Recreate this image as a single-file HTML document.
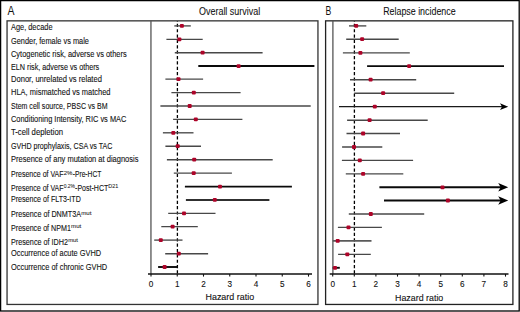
<!DOCTYPE html>
<html><head><meta charset="utf-8"><style>
html,body{margin:0;padding:0;background:#fff;width:520px;height:312px;overflow:hidden}
svg{display:block}
text{font-family:"Liberation Sans", sans-serif}
</style></head><body>
<svg width="520" height="312" viewBox="0 0 520 312">
<rect width="520" height="312" fill="#fff"/>
<rect x="0.6" y="0.6" width="518.6" height="310.4" fill="none" stroke="#000" stroke-width="1.3"/>
<text x="7.6" y="14.5" font-size="12" fill="#111" textLength="7.0" lengthAdjust="spacingAndGlyphs">A</text>
<text x="325.5" y="14.5" font-size="12" fill="#111" textLength="5.8" lengthAdjust="spacingAndGlyphs">B</text>
<text x="199.0" y="15" font-size="10" fill="#111" stroke="#111" stroke-width="0.08" textLength="61.2" lengthAdjust="spacingAndGlyphs">Overall survival</text>
<text x="383.2" y="15" font-size="10" fill="#111" stroke="#111" stroke-width="0.08" textLength="72.4" lengthAdjust="spacingAndGlyphs">Relapse incidence</text>
<rect x="7.05" y="20.85" width="310.9" height="283.6" fill="none" stroke="#333" stroke-width="1.3"/>
<rect x="325.6" y="20.85" width="187.3" height="283.6" fill="none" stroke="#222" stroke-width="1.3"/>
<text x="11.0" y="30.0" font-size="8.2" fill="#111" stroke="#111" stroke-width="0.1" textLength="41.5" lengthAdjust="spacingAndGlyphs">Age, decade</text>
<text x="11.0" y="43.5" font-size="8.2" fill="#111" stroke="#111" stroke-width="0.1" textLength="77.9" lengthAdjust="spacingAndGlyphs">Gender, female vs male</text>
<text x="11.0" y="56.5" font-size="8.2" fill="#111" stroke="#111" stroke-width="0.1" textLength="115.6" lengthAdjust="spacingAndGlyphs">Cytogenetic risk, adverse vs others</text>
<text x="11.0" y="70.4" font-size="8.2" fill="#111" stroke="#111" stroke-width="0.1" textLength="88.2" lengthAdjust="spacingAndGlyphs">ELN risk, adverse vs others</text>
<text x="11.0" y="81.9" font-size="8.2" fill="#111" stroke="#111" stroke-width="0.1" textLength="90.9" lengthAdjust="spacingAndGlyphs">Donor, unrelated vs related</text>
<text x="11.0" y="95.4" font-size="8.2" fill="#111" stroke="#111" stroke-width="0.1" textLength="99.5" lengthAdjust="spacingAndGlyphs">HLA, mismatched vs matched</text>
<text x="11.0" y="108.7" font-size="8.2" fill="#111" stroke="#111" stroke-width="0.1" textLength="96.5" lengthAdjust="spacingAndGlyphs">Stem cell source, PBSC vs BM</text>
<text x="11.0" y="122.0" font-size="8.2" fill="#111" stroke="#111" stroke-width="0.1" textLength="115.4" lengthAdjust="spacingAndGlyphs">Conditioning Intensity, RIC vs MAC</text>
<text x="11.0" y="135.3" font-size="8.2" fill="#111" stroke="#111" stroke-width="0.1" textLength="52.0" lengthAdjust="spacingAndGlyphs">T-cell depletion</text>
<text x="11.0" y="148.9" font-size="8.2" fill="#111" stroke="#111" stroke-width="0.1" textLength="101.4" lengthAdjust="spacingAndGlyphs">GVHD prophylaxis, CSA vs TAC</text>
<text x="11.0" y="162.4" font-size="8.2" fill="#111" stroke="#111" stroke-width="0.1" textLength="127.5" lengthAdjust="spacingAndGlyphs">Presence of any mutation at diagnosis</text>
<text x="11.0" y="202.2" font-size="8.2" fill="#111" stroke="#111" stroke-width="0.1" textLength="69.8" lengthAdjust="spacingAndGlyphs">Presence of FLT3-ITD</text>
<text x="11.0" y="256.1" font-size="8.2" fill="#111" stroke="#111" stroke-width="0.1" textLength="90.1" lengthAdjust="spacingAndGlyphs">Occurrence of acute GVHD</text>
<text x="11.0" y="269.8" font-size="8.2" fill="#111" stroke="#111" stroke-width="0.1" textLength="96.2" lengthAdjust="spacingAndGlyphs">Occurrence of chronic GVHD</text>
<text x="11.0" y="177.4" font-size="8.2" fill="#111" stroke="#111" stroke-width="0.1" textLength="52.6" lengthAdjust="spacingAndGlyphs">Presence of VAF</text>
<text x="63.7" y="175.0" font-size="5.8" fill="#111" stroke="#111" stroke-width="0.05" textLength="8.7" lengthAdjust="spacingAndGlyphs">2%</text>
<text x="72.7" y="177.4" font-size="8.2" fill="#111" stroke="#111" stroke-width="0.1" textLength="28.7" lengthAdjust="spacingAndGlyphs">-Pre-HCT</text>
<text x="11.0" y="190.6" font-size="8.2" fill="#111" stroke="#111" stroke-width="0.1" textLength="52.6" lengthAdjust="spacingAndGlyphs">Presence of VAF</text>
<text x="63.7" y="188.2" font-size="5.8" fill="#111" stroke="#111" stroke-width="0.05" textLength="11.3" lengthAdjust="spacingAndGlyphs">0.2%</text>
<text x="75.1" y="190.6" font-size="8.2" fill="#111" stroke="#111" stroke-width="0.1" textLength="33.2" lengthAdjust="spacingAndGlyphs">-Post-HCT</text>
<text x="108.3" y="188.2" font-size="5.8" fill="#111" stroke="#111" stroke-width="0.05" textLength="10.0" lengthAdjust="spacingAndGlyphs">D21</text>
<text x="11.0" y="217.3" font-size="8.2" fill="#111" stroke="#111" stroke-width="0.1" textLength="70.0" lengthAdjust="spacingAndGlyphs">Presence of DNMT3A</text>
<text x="81.2" y="214.9" font-size="5.8" fill="#111" stroke="#111" stroke-width="0.05" textLength="10.2" lengthAdjust="spacingAndGlyphs">mut</text>
<text x="11.0" y="230.8" font-size="8.2" fill="#111" stroke="#111" stroke-width="0.1" textLength="59.9" lengthAdjust="spacingAndGlyphs">Presence of NPM1</text>
<text x="71.10000000000001" y="228.4" font-size="5.8" fill="#111" stroke="#111" stroke-width="0.05" textLength="10.2" lengthAdjust="spacingAndGlyphs">mut</text>
<text x="11.0" y="244.6" font-size="8.2" fill="#111" stroke="#111" stroke-width="0.1" textLength="57.0" lengthAdjust="spacingAndGlyphs">Presence of IDH2</text>
<text x="68.2" y="242.2" font-size="5.8" fill="#111" stroke="#111" stroke-width="0.05" textLength="9.8" lengthAdjust="spacingAndGlyphs">mut</text>
<line x1="150.95" y1="20.85" x2="150.95" y2="274.0" stroke="#555" stroke-width="1.3" />
<line x1="148.0" y1="274.0" x2="312.0" y2="274.0" stroke="#111" stroke-width="1.3" />
<line x1="151.0" y1="274.0" x2="151.0" y2="276.6" stroke="#111" stroke-width="1.1" />
<text x="151.0" y="286.9" font-size="8.2" fill="#111" stroke="#111" stroke-width="0.1" text-anchor="middle">0</text>
<line x1="177.25" y1="274.0" x2="177.25" y2="276.6" stroke="#111" stroke-width="1.1" />
<text x="177.25" y="286.9" font-size="8.2" fill="#111" stroke="#111" stroke-width="0.1" text-anchor="middle">1</text>
<line x1="203.5" y1="274.0" x2="203.5" y2="276.6" stroke="#111" stroke-width="1.1" />
<text x="203.5" y="286.9" font-size="8.2" fill="#111" stroke="#111" stroke-width="0.1" text-anchor="middle">2</text>
<line x1="229.75" y1="274.0" x2="229.75" y2="276.6" stroke="#111" stroke-width="1.1" />
<text x="229.75" y="286.9" font-size="8.2" fill="#111" stroke="#111" stroke-width="0.1" text-anchor="middle">3</text>
<line x1="256.0" y1="274.0" x2="256.0" y2="276.6" stroke="#111" stroke-width="1.1" />
<text x="256.0" y="286.9" font-size="8.2" fill="#111" stroke="#111" stroke-width="0.1" text-anchor="middle">4</text>
<line x1="282.25" y1="274.0" x2="282.25" y2="276.6" stroke="#111" stroke-width="1.1" />
<text x="282.25" y="286.9" font-size="8.2" fill="#111" stroke="#111" stroke-width="0.1" text-anchor="middle">5</text>
<line x1="308.5" y1="274.0" x2="308.5" y2="276.6" stroke="#111" stroke-width="1.1" />
<text x="308.5" y="286.9" font-size="8.2" fill="#111" stroke="#111" stroke-width="0.1" text-anchor="middle">6</text>
<line x1="177.4" y1="21.2" x2="177.4" y2="274" stroke="#000" stroke-width="1.3" stroke-dasharray="3.2 2.16" stroke-dashoffset="2.76"/>
<line x1="174.3" y1="25.9" x2="190.8" y2="25.9" stroke="#484848" stroke-width="1.35" />
<rect x="179.9" y="24.0" width="4.0" height="3.8" rx="1.0" fill="#ad0429"/>
<line x1="166.4" y1="39.3" x2="202.7" y2="39.3" stroke="#484848" stroke-width="1.35" />
<rect x="177.4" y="37.4" width="4.0" height="3.8" rx="1.0" fill="#ad0429"/>
<line x1="174.8" y1="52.7" x2="262.6" y2="52.7" stroke="#484848" stroke-width="1.35" />
<rect x="200.6" y="50.800000000000004" width="4.0" height="3.8" rx="1.0" fill="#ad0429"/>
<line x1="198.3" y1="66.05" x2="314.4" y2="66.05" stroke="#0a0a0a" stroke-width="1.9" />
<rect x="236.6" y="64.14999999999999" width="4.0" height="3.8" rx="1.0" fill="#ad0429"/>
<line x1="165.4" y1="79.1" x2="203.1" y2="79.1" stroke="#484848" stroke-width="1.35" />
<rect x="176.5" y="77.19999999999999" width="4.0" height="3.8" rx="1.0" fill="#ad0429"/>
<line x1="171.4" y1="92.6" x2="240.6" y2="92.6" stroke="#484848" stroke-width="1.35" />
<rect x="191.8" y="90.69999999999999" width="4.0" height="3.8" rx="1.0" fill="#ad0429"/>
<line x1="160.4" y1="106.0" x2="310.7" y2="106.0" stroke="#484848" stroke-width="1.35" />
<rect x="187.7" y="104.1" width="4.0" height="3.8" rx="1.0" fill="#ad0429"/>
<line x1="173.1" y1="119.3" x2="242.4" y2="119.3" stroke="#484848" stroke-width="1.35" />
<rect x="193.8" y="117.39999999999999" width="4.0" height="3.8" rx="1.0" fill="#ad0429"/>
<line x1="162.9" y1="132.8" x2="193.5" y2="132.8" stroke="#484848" stroke-width="1.35" />
<rect x="171.3" y="130.9" width="4.0" height="3.8" rx="1.0" fill="#ad0429"/>
<line x1="165.4" y1="146.2" x2="201.0" y2="146.2" stroke="#484848" stroke-width="1.35" />
<rect x="175.7" y="144.29999999999998" width="4.0" height="3.8" rx="1.0" fill="#ad0429"/>
<line x1="166.9" y1="159.7" x2="272.7" y2="159.7" stroke="#484848" stroke-width="1.35" />
<rect x="192.2" y="157.79999999999998" width="4.0" height="3.8" rx="1.0" fill="#ad0429"/>
<line x1="173.8" y1="173.1" x2="231.9" y2="173.1" stroke="#484848" stroke-width="1.35" />
<rect x="191.7" y="171.2" width="4.0" height="3.8" rx="1.0" fill="#ad0429"/>
<line x1="184.9" y1="186.6" x2="291.9" y2="186.6" stroke="#0a0a0a" stroke-width="1.9" />
<rect x="218.0" y="184.7" width="4.0" height="3.8" rx="1.0" fill="#ad0429"/>
<line x1="185.9" y1="199.9" x2="269.4" y2="199.9" stroke="#303030" stroke-width="2.0" />
<rect x="212.8" y="198.0" width="4.0" height="3.8" rx="1.0" fill="#ad0429"/>
<line x1="168.2" y1="213.4" x2="215.5" y2="213.4" stroke="#484848" stroke-width="1.35" />
<rect x="182.0" y="211.5" width="4.0" height="3.8" rx="1.0" fill="#ad0429"/>
<line x1="161.3" y1="226.6" x2="197.8" y2="226.6" stroke="#484848" stroke-width="1.35" />
<rect x="170.6" y="224.7" width="4.0" height="3.8" rx="1.0" fill="#ad0429"/>
<line x1="154.2" y1="240.1" x2="182.5" y2="240.1" stroke="#484848" stroke-width="1.35" />
<rect x="158.8" y="238.2" width="4.0" height="3.8" rx="1.0" fill="#ad0429"/>
<line x1="165.2" y1="253.7" x2="208.1" y2="253.7" stroke="#484848" stroke-width="1.35" />
<rect x="176.8" y="251.79999999999998" width="4.0" height="3.8" rx="1.0" fill="#ad0429"/>
<line x1="158.1" y1="267.0" x2="177.5" y2="267.0" stroke="#0a0a0a" stroke-width="1.9" />
<rect x="162.6" y="265.1" width="4.0" height="3.8" rx="1.0" fill="#ad0429"/>
<line x1="332.9" y1="20.85" x2="332.9" y2="274.0" stroke="#555" stroke-width="1.3" />
<line x1="329.7" y1="274.0" x2="508.5" y2="274.0" stroke="#111" stroke-width="1.3" />
<line x1="332.7" y1="274.0" x2="332.7" y2="276.6" stroke="#111" stroke-width="1.1" />
<text x="332.7" y="287.4" font-size="8.2" fill="#111" stroke="#111" stroke-width="0.1" text-anchor="middle">0</text>
<line x1="354.3" y1="274.0" x2="354.3" y2="276.6" stroke="#111" stroke-width="1.1" />
<text x="354.3" y="287.4" font-size="8.2" fill="#111" stroke="#111" stroke-width="0.1" text-anchor="middle">1</text>
<line x1="375.9" y1="274.0" x2="375.9" y2="276.6" stroke="#111" stroke-width="1.1" />
<text x="375.9" y="287.4" font-size="8.2" fill="#111" stroke="#111" stroke-width="0.1" text-anchor="middle">2</text>
<line x1="397.5" y1="274.0" x2="397.5" y2="276.6" stroke="#111" stroke-width="1.1" />
<text x="397.5" y="287.4" font-size="8.2" fill="#111" stroke="#111" stroke-width="0.1" text-anchor="middle">3</text>
<line x1="419.1" y1="274.0" x2="419.1" y2="276.6" stroke="#111" stroke-width="1.1" />
<text x="419.1" y="287.4" font-size="8.2" fill="#111" stroke="#111" stroke-width="0.1" text-anchor="middle">4</text>
<line x1="440.7" y1="274.0" x2="440.7" y2="276.6" stroke="#111" stroke-width="1.1" />
<text x="440.7" y="287.4" font-size="8.2" fill="#111" stroke="#111" stroke-width="0.1" text-anchor="middle">5</text>
<line x1="462.3" y1="274.0" x2="462.3" y2="276.6" stroke="#111" stroke-width="1.1" />
<text x="462.3" y="287.4" font-size="8.2" fill="#111" stroke="#111" stroke-width="0.1" text-anchor="middle">6</text>
<line x1="483.9" y1="274.0" x2="483.9" y2="276.6" stroke="#111" stroke-width="1.1" />
<text x="483.9" y="287.4" font-size="8.2" fill="#111" stroke="#111" stroke-width="0.1" text-anchor="middle">7</text>
<line x1="505.5" y1="274.0" x2="505.5" y2="276.6" stroke="#111" stroke-width="1.1" />
<text x="505.5" y="287.4" font-size="8.2" fill="#111" stroke="#111" stroke-width="0.1" text-anchor="middle">8</text>
<line x1="354.4" y1="21.2" x2="354.4" y2="274" stroke="#000" stroke-width="1.3" stroke-dasharray="3.2 2.16" stroke-dashoffset="2.76"/>
<line x1="349.0" y1="25.9" x2="366.3" y2="25.9" stroke="#484848" stroke-width="1.35" />
<rect x="354.2" y="24.0" width="4.0" height="3.8" rx="1.0" fill="#ad0429"/>
<line x1="346.2" y1="39.2" x2="398.7" y2="39.2" stroke="#484848" stroke-width="1.35" />
<rect x="360.1" y="37.300000000000004" width="4.0" height="3.8" rx="1.0" fill="#ad0429"/>
<line x1="342.9" y1="52.8" x2="409.8" y2="52.8" stroke="#484848" stroke-width="1.35" />
<rect x="358.4" y="50.9" width="4.0" height="3.8" rx="1.0" fill="#ad0429"/>
<line x1="367.1" y1="66.1" x2="504.0" y2="66.1" stroke="#0a0a0a" stroke-width="1.9" />
<rect x="407.1" y="64.19999999999999" width="4.0" height="3.8" rx="1.0" fill="#ad0429"/>
<line x1="350.0" y1="79.7" x2="416.2" y2="79.7" stroke="#484848" stroke-width="1.35" />
<rect x="368.6" y="77.8" width="4.0" height="3.8" rx="1.0" fill="#ad0429"/>
<line x1="354.2" y1="93.2" x2="454.2" y2="93.2" stroke="#484848" stroke-width="1.35" />
<rect x="381.1" y="91.3" width="4.0" height="3.8" rx="1.0" fill="#ad0429"/>
<line x1="339.0" y1="106.7" x2="502.2" y2="106.7" stroke="#1a1a1a" stroke-width="1.25" />
<path d="M508.2,106.7 L500.0,103.3 L502.0,106.7 L500.0,110.10000000000001 Z" fill="#000"/>
<rect x="372.8" y="104.8" width="4.0" height="3.8" rx="1.0" fill="#ad0429"/>
<line x1="347.1" y1="120.2" x2="427.7" y2="120.2" stroke="#484848" stroke-width="1.35" />
<rect x="367.6" y="118.3" width="4.0" height="3.8" rx="1.0" fill="#ad0429"/>
<line x1="346.5" y1="133.5" x2="400.0" y2="133.5" stroke="#484848" stroke-width="1.35" />
<rect x="361.1" y="131.6" width="4.0" height="3.8" rx="1.0" fill="#ad0429"/>
<line x1="342.1" y1="147.0" x2="382.3" y2="147.0" stroke="#484848" stroke-width="1.35" />
<rect x="352.0" y="145.1" width="4.0" height="3.8" rx="1.0" fill="#ad0429"/>
<line x1="341.9" y1="160.3" x2="413.1" y2="160.3" stroke="#484848" stroke-width="1.35" />
<rect x="357.8" y="158.4" width="4.0" height="3.8" rx="1.0" fill="#ad0429"/>
<line x1="345.8" y1="173.9" x2="403.3" y2="173.9" stroke="#484848" stroke-width="1.35" />
<rect x="361.1" y="172.0" width="4.0" height="3.8" rx="1.0" fill="#ad0429"/>
<line x1="379.4" y1="187.3" x2="502.2" y2="187.3" stroke="#0a0a0a" stroke-width="1.9" />
<path d="M508.2,187.3 L498.2,183.10000000000002 L500.7,187.3 L498.2,191.5 Z" fill="#000"/>
<rect x="440.5" y="185.4" width="4.0" height="3.8" rx="1.0" fill="#ad0429"/>
<line x1="384.0" y1="200.5" x2="502.2" y2="200.5" stroke="#0a0a0a" stroke-width="1.9" />
<path d="M508.2,200.5 L498.2,196.3 L500.7,200.5 L498.2,204.7 Z" fill="#000"/>
<rect x="445.9" y="198.6" width="4.0" height="3.8" rx="1.0" fill="#ad0429"/>
<line x1="348.8" y1="214.0" x2="424.2" y2="214.0" stroke="#484848" stroke-width="1.35" />
<rect x="368.8" y="212.1" width="4.0" height="3.8" rx="1.0" fill="#ad0429"/>
<line x1="337.9" y1="227.4" x2="381.9" y2="227.4" stroke="#484848" stroke-width="1.35" />
<rect x="346.5" y="225.5" width="4.0" height="3.8" rx="1.0" fill="#ad0429"/>
<line x1="332.7" y1="240.9" x2="371.5" y2="240.9" stroke="#5a5a5a" stroke-width="1.8" />
<rect x="335.7" y="239.0" width="4.0" height="3.8" rx="1.0" fill="#ad0429"/>
<line x1="338.1" y1="254.3" x2="370.8" y2="254.3" stroke="#484848" stroke-width="1.35" />
<rect x="345.3" y="252.4" width="4.0" height="3.8" rx="1.0" fill="#ad0429"/>
<line x1="332.7" y1="267.8" x2="339.8" y2="267.8" stroke="#0a0a0a" stroke-width="1.9" />
<rect x="333.0" y="265.90000000000003" width="4.0" height="3.8" rx="1.0" fill="#ad0429"/>
<text x="205.5" y="300.0" font-size="9.2" fill="#111" stroke="#111" stroke-width="0.1" textLength="48.6" lengthAdjust="spacingAndGlyphs">Hazard ratio</text>
<text x="395.0" y="300.6" font-size="9.2" fill="#111" stroke="#111" stroke-width="0.1" textLength="48.3" lengthAdjust="spacingAndGlyphs">Hazard ratio</text>
</svg>
</body></html>
